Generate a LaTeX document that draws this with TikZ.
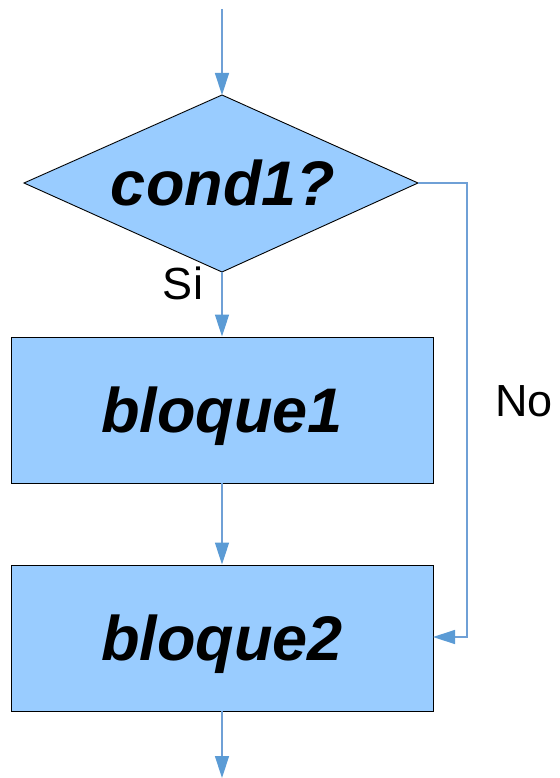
\documentclass[tikz,border=0pt]{standalone}
\usepackage{fontspec}
\setmainfont{Liberation Sans}
\usetikzlibrary{arrows.meta,shapes.geometric}
\definecolor{boxfill}{HTML}{99CCFF}
\definecolor{flow}{HTML}{6FA0D6}
\definecolor{tip}{HTML}{5B9BD5}
\tikzset{
  bigtext/.style={font=\fontsize{63}{63}\selectfont\bfseries\itshape, inner sep=0pt, anchor=base},
  blockbox/.style={draw=black, line width=0.9pt, fill=boxfill, minimum width=422pt,
    minimum height=146pt, inner sep=0pt},
  flowline/.style={draw=flow, line width=1.4pt,
    -{Triangle[length=22pt,width=14pt,color=tip]}},
  lbl/.style={font=\fontsize{45}{45}\selectfont, inner sep=0pt}
}
\begin{document}
\begin{tikzpicture}[x=1pt,y=-1pt]
  \useasboundingbox (0,0) rectangle (559,778);
  % decision diamond
  \filldraw[fill=boxfill, draw=black, line width=0.9pt]
    (222,95) -- (418,183) -- (222,272) -- (24,183) -- cycle;
  \coordinate (ctop) at (222,95);
  \coordinate (cright) at (418,183);
  \coordinate (cbottom) at (222,272);
  \node[bigtext] (cond) at (223,205) {cond1?};

  % process blocks
  \node[blockbox] (b1) at (222,410) {};
  \node[blockbox] (b2) at (222,638) {};
  \node[bigtext] (t1) at (222,432) {bloque1};
  \node[bigtext] (t2) at (222,660) {bloque2};

  \coordinate (start) at (222,9);
  \coordinate (finish) at (222,778);
  \coordinate (bend1) at (467,183);
  \coordinate (bend2) at (467,637);
  \coordinate (b2in) at (433,637);

  \draw[flowline] (start) -- (ctop);
  \draw[flowline] (cbottom) -- (b1.north);
  \draw[flowline] (b1.south) -- (b2.north);
  \draw[flowline] (b2.south) -- (finish);
  \draw[flowline] (cright) -- (bend1) -- (bend2) -- (b2in);

  \node[lbl] (si) at (183,283) {Si};
  \node[lbl] (no) at (524,401) {No};
\end{tikzpicture}
\end{document}
